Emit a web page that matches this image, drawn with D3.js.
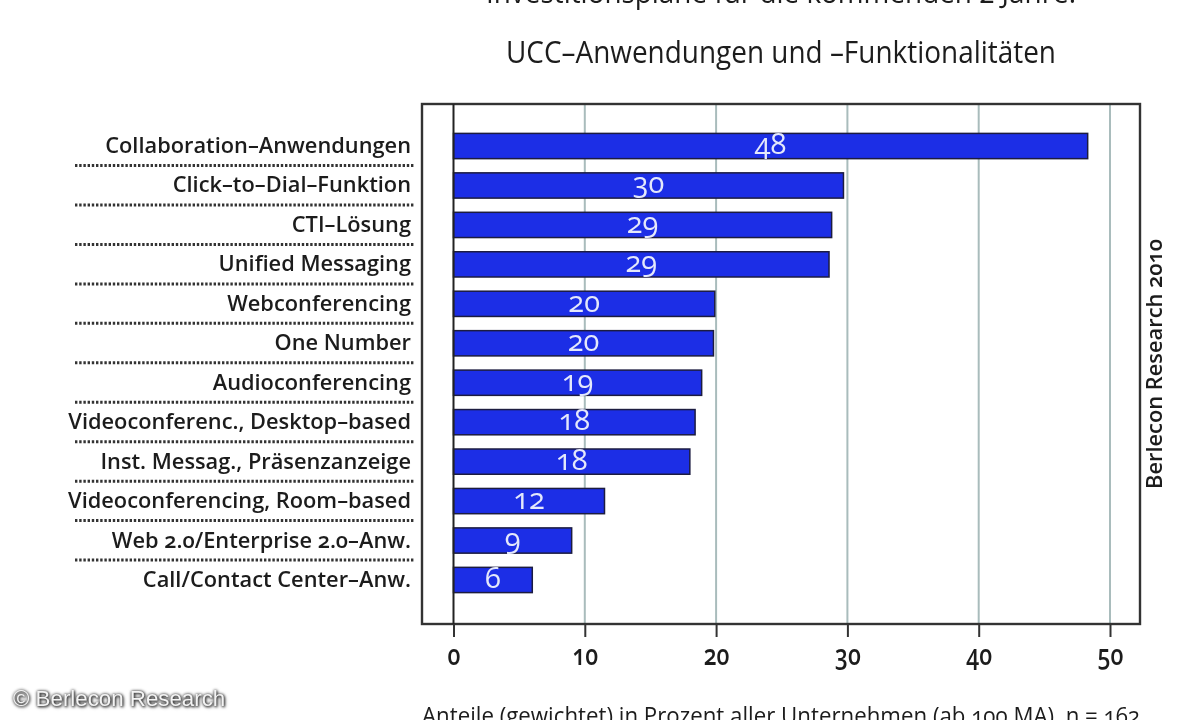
<!DOCTYPE html>
<html>
<head>
<meta charset="utf-8">
<script src="https://cdn.jsdelivr.net/npm/d3@7"></script>
<style>
body { margin: 0; background: #fff; overflow: hidden; }
svg { filter: blur(0.5px); }
text { font-family: "Open Sans", Lato, sans-serif; fill: #1c1c1c; font-variant-numeric: oldstyle-nums; }
</style>
</head>
<body>
<svg id="chart" width="1200" height="720"></svg>
<script>
var categories = ['Collaboration–Anwendungen', 'Click–to–Dial–Funktion', 'CTI–Lösung', 'Unified Messaging',
    'Webconferencing', 'One Number', 'Audioconferencing', 'Videoconferenc., Desktop–based',
    'Inst. Messag., Präsenzanzeige', 'Videoconferencing, Room–based', 'Web 2.0/Enterprise 2.0–Anw.', 'Call/Contact Center–Anw.'];
var values = [48.3, 29.7, 28.8, 28.6, 19.9, 19.8, 18.9, 18.4, 18, 11.5, 9, 6];
var valueLabels = [48, 30, 29, 29, 20, 20, 19, 18, 18, 12, 9, 6];
var xTicks = [0, 10, 20, 30, 40, 50];

var svg = d3.select('#chart');
var frame = { left: 422, right: 1140, top: 104, bottom: 624 };

var x = d3.scaleLinear().domain([0, 50]).range([453.5, 1110]);
var y = d3.scaleBand().domain(categories).range([126.3, 599.7]).paddingInner(0.36).paddingOuter(0.18);

// titles, first one is cut off by the top edge
svg.append('text').attr('x', 781).attr('y', 3).attr('text-anchor', 'middle')
    .attr('font-size', 30).attr('font-weight', 500).attr('textLength', 590).attr('lengthAdjust', 'spacingAndGlyphs')
    .text('Investitionspläne für die kommenden 2 Jahre:');
svg.append('text').attr('x', 781).attr('y', 63).attr('text-anchor', 'middle')
    .attr('font-size', 31).attr('font-weight', 500).attr('textLength', 550).attr('lengthAdjust', 'spacingAndGlyphs')
    .text('UCC–Anwendungen und –Funktionalitäten');

// grid
svg.append('g').selectAll('line').data(xTicks.slice(1)).enter().append('line')
    .attr('x1', function (d) { return x(d); }).attr('x2', function (d) { return x(d); })
    .attr('y1', frame.top).attr('y2', frame.bottom)
    .attr('stroke', '#a9bcbc').attr('stroke-width', 2);

// frame
svg.append('rect').attr('x', frame.left).attr('y', frame.top)
    .attr('width', frame.right - frame.left).attr('height', frame.bottom - frame.top)
    .attr('fill', 'none').attr('stroke', '#333').attr('stroke-width', 2.4);

// x axis
var xAxis = d3.axisBottom(x).tickValues(xTicks).tickSize(13).tickPadding(8).tickFormat(d3.format('d'));
var gx = svg.append('g').attr('transform', 'translate(0,' + frame.bottom + ')').call(xAxis);
gx.select('.domain').remove();
gx.selectAll('line').attr('stroke', '#333').attr('stroke-width', 2);
gx.selectAll('text').attr('font-size', 28).attr('font-weight', 600)
    .attr('transform', 'scale(0.82,1)')
    .style('font-family', '"Open Sans", sans-serif').attr('fill', '#1c1c1c');

// bars
svg.append('g').selectAll('rect').data(values).enter().append('rect')
    .attr('x', x(0))
    .attr('y', function (d, i) { return y(categories[i]); })
    .attr('width', function (d) { return x(d) - x(0); })
    .attr('height', y.bandwidth())
    .attr('fill', '#1c2ee6').attr('stroke', '#1c1c40').attr('stroke-width', 1.5);

// zero line over the bars
svg.append('line').attr('x1', x(0)).attr('x2', x(0)).attr('y1', frame.top).attr('y2', frame.bottom)
    .attr('stroke', '#222').attr('stroke-width', 2);

// value labels
svg.append('g').selectAll('text').data(valueLabels).enter().append('text')
    .attr('x', function (d, i) { return x(values[i] / 2); })
    .attr('y', function (d, i) { return y(categories[i]) + y.bandwidth() / 2 + 8; })
    .attr('text-anchor', 'middle').attr('font-size', 29)
    .style('fill', '#e4e8fb')
    .text(function (d) { return d; });

// category labels
svg.append('g').selectAll('text').data(categories).enter().append('text')
    .attr('x', 411)
    .attr('y', function (d) { return y(d) + y.bandwidth() / 2 + 7; })
    .attr('text-anchor', 'end').attr('font-size', 21.8).attr('font-weight', 600)
    .text(function (d) { return d; });

// dotted separators under the labels
svg.append('g').selectAll('line').data(categories.slice(0, -1)).enter().append('line')
    .attr('x1', 75).attr('x2', 415)
    .attr('y1', function (d) { return y(d) + y.bandwidth() / 2 + 19.5; })
    .attr('y2', function (d) { return y(d) + y.bandwidth() / 2 + 19.5; })
    .attr('stroke', '#333').attr('stroke-width', 3).attr('stroke-dasharray', '2.4 1.8');

// source, rotated
svg.append('text').attr('transform', 'translate(1162,364) rotate(-90)')
    .attr('text-anchor', 'middle').attr('font-size', 21).attr('font-weight', 600)
    .attr('textLength', 250).attr('lengthAdjust', 'spacingAndGlyphs')
    .text('Berlecon Research 2010');

// footnote, cut off by the bottom edge
svg.append('text').attr('x', 422).attr('y', 724).attr('font-size', 23).attr('font-weight', 500)
    .attr('textLength', 718).attr('lengthAdjust', 'spacingAndGlyphs')
    .text('Anteile (gewichtet) in Prozent aller Unternehmen (ab 100 MA), n = 162');

// watermark
svg.append('text').attr('x', 13).attr('y', 706).attr('font-size', 22.3)
    .style('font-family', '"Liberation Sans", sans-serif').style('fill', '#f4f4f4')
    .style('font-variant-numeric', 'normal')
    .style('filter', 'drop-shadow(0 0 1.5px #333) drop-shadow(1px 1px 1px #555)')
    .text('© Berlecon Research');
</script>
</body>
</html>
